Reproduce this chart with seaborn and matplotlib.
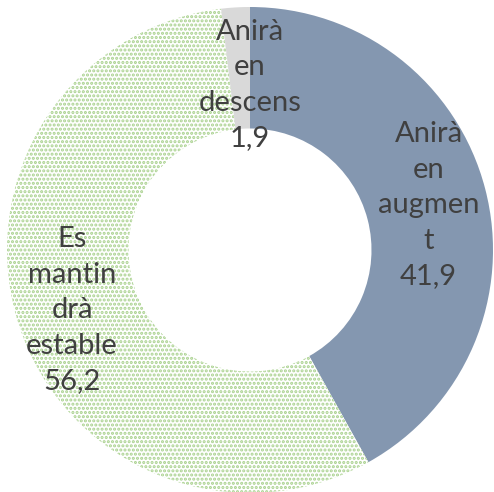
import numpy as np
import matplotlib
matplotlib.use("Agg")
import matplotlib.pyplot as plt
import seaborn as sns

# Survey answers (percent)
categories = ["Anirà en augment", "Es mantindrà estable", "Anirà en descens"]
values = [41.9, 56.2, 1.9]
label_lines = [
    ["Anirà", "en", "augmen", "t"],
    ["Es", "mantin", "drà", "estable"],
    ["Anirà", "en", "descens"],
]
value_text = ["41,9", "56,2", "1,9"]

sns.set_theme(style="white")
plt.rcParams["font.family"] = ["Lato", "DejaVu Sans"]
plt.rcParams["hatch.linewidth"] = 1.5

W, H = 494, 492
fig = plt.figure(figsize=(W / 100, H / 100), dpi=100)
ax = fig.add_axes([0, 0, 1, 1])

R = 243.0          # outer radius in px
cx, cy = 250.0, 250.0  # centre in px (from top-left)

face = ["#8497B0", "white", "#D9D9D9"]
wedges, _ = ax.pie(
    values,
    startangle=90,
    counterclock=False,
    radius=1.0,
    colors=face,
    wedgeprops=dict(width=0.5, linewidth=0),
)
wedges[1].set_hatch("....")
wedges[1].set_edgecolor("#A9D18E")
wedges[1].set_linewidth(0)

ax.set_xlim(-cx / R, (W - cx) / R)
ax.set_ylim(-(H - cy) / R, cy / R)
ax.set_aspect("equal")
ax.axis("off")

# label placement along each wedge's middle angle
total = sum(values)
radii = [0.77, 0.77, 0.70]
shifts = [(-0.01, -0.01), (0.0, -0.01), (0.042, -0.02)]
start = 90.0
for i, v in enumerate(values):
    sweep = 360.0 * v / total
    mid = np.deg2rad(start - sweep / 2)
    start -= sweep
    x = radii[i] * np.cos(mid) + shifts[i][0]
    y = radii[i] * np.sin(mid) + shifts[i][1]
    txt = "\n".join(label_lines[i] + [value_text[i]])
    ax.text(x, y, txt, ha="center", va="center", fontsize=21,
            color="#404040", linespacing=1.45)

fig.savefig("out.png", dpi=100)
